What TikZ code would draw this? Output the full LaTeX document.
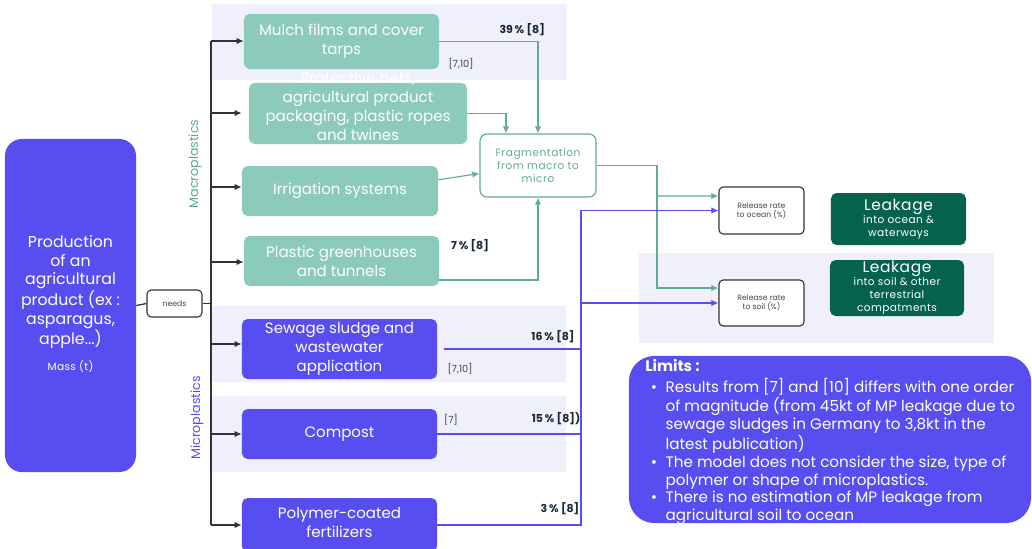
\documentclass[tikz,border=0pt]{standalone}
\usepackage{fontspec}
\setmainfont{Poppins}
\usepackage{tikz}
\usetikzlibrary{arrows.meta}

\definecolor{mpviolet}{RGB}{87,77,240}
\definecolor{tealfill}{RGB}{140,202,187}
\definecolor{tealline}{RGB}{95,172,150}
\definecolor{leakgreen}{RGB}{5,98,77}
\definecolor{lavender}{RGB}{240,240,252}
\definecolor{labeldark}{RGB}{25,40,55}
\definecolor{refgray}{RGB}{60,72,88}

\begin{document}
\begin{tikzpicture}[x=0.025cm, y=-0.025cm, >={Latex[length=5pt,width=4.5pt]},
    every node/.style={inner sep=0pt},
    boxtext/.style={text=white, align=center, font=\fontsize{10.7}{13.5}\selectfont},
    tealbox/.style={boxtext, fill=tealfill, rounded corners=4pt},
    violetbox/.style={boxtext, fill=mpviolet, rounded corners=4pt},
    smallbox/.style={fill=white, draw=black!80, line width=0.8pt, rounded corners=3pt, text=refgray, align=center, font=\fontsize{5.5}{6.5}\selectfont},
    leakbox/.style={fill=leakgreen, rounded corners=4pt, text=white, align=center, font=\addfontfeature{LetterSpace=4}\fontsize{7.5}{9.3}\selectfont},
    pct/.style={text=labeldark, font=\bfseries\fontsize{7.8}{9}\selectfont},
    refs/.style={text=refgray, font=\fontsize{7}{8}\selectfont},
    trunk/.style={draw=black!80, line width=0.9pt},
    tline/.style={draw=tealline, line width=0.8pt},
    vline/.style={draw=mpviolet, line width=0.8pt}]
    \useasboundingbox (0,0) rectangle (1032,548);

    % background bands
    \fill[lavender] (212,4) rectangle (567,80);
    \fill[lavender] (212,306) rectangle (566,382);
    \fill[lavender] (212,396) rectangle (566,472);
    \fill[lavender] (639,253) rectangle (994,343);

    \node[fill=mpviolet, rounded corners=12pt, minimum width=3.275cm, minimum height=8.325cm] (prod) at (70.5,305.5) {};
    \node[boxtext, font=\fontsize{11.2}{13.3}\selectfont] (prodlbl) at (70.5,292) {Production\\of an\\agricultural\\product (ex :\\asparagus,\\apple...)};
    \node[text=white, font=\addfontfeature{LetterSpace=4}\fontsize{7.5}{9}\selectfont] (mass) at (70.5,367) {Mass (t)};

    \node[smallbox, minimum width=1.375cm, minimum height=0.675cm] (needs) at (174.5,303.5) {needs};

    \node[tealbox, minimum width=4.875cm, minimum height=1.375cm] (mulch) at (341.5,41.5) {Mulch films and cover\\tarps};
    \node[tealbox, minimum width=5.45cm, minimum height=1.525cm] (prot) at (358,113.5) {};
    \node[boxtext] (protlbl) at ([yshift=5pt]prot.center) {Protective nets,\\agricultural product\\packaging, plastic ropes\\and twines};
    \node[tealbox, minimum width=4.9cm, minimum height=1.25cm] (irr) at (340,191) {Irrigation systems};
    \node[tealbox, minimum width=4.875cm, minimum height=1.25cm] (green) at (341.5,261) {Plastic greenhouses\\and tunnels};

    \node[violetbox, minimum width=4.875cm, minimum height=1.5cm] (sew) at (339.5,349) {Sewage sludge and\\wastewater\\application};
    \node[violetbox, minimum width=4.875cm, minimum height=1.25cm] (comp) at (339.5,434) {Compost};
    \node[violetbox, minimum width=4.875cm, minimum height=1.35cm] (poly) at (339.5,525) {};
    \node[boxtext] (polylbl) at (339.5,522) {Polymer-coated\\fertilizers};

    \node[text=tealline, rotate=90, font=\fontsize{9}{10}\selectfont] (macro) at (195,164) {Macroplastics};
    \node[text=mpviolet, rotate=90, font=\fontsize{9}{10}\selectfont] (micro) at (197,418) {Microplastics};

    \node[fill=white, draw=tealline, line width=0.8pt, rounded corners=5pt, minimum width=2.9cm, minimum height=1.575cm,
          text=tealline, align=center, font=\addfontfeature{LetterSpace=5}\fontsize{7.5}{9.2}\selectfont] (frag) at (538,165.5) {Fragmentation\\from macro to\\micro};

    \node[smallbox, minimum width=2.125cm, minimum height=1.175cm] (ocean) at (761.5,210.5) {Release rate\\to ocean (\%)};
    \node[smallbox, minimum width=2.125cm, minimum height=1.15cm] (soil) at (761.5,303) {Release rate\\to soil (\%)};

    \node[leakbox, minimum width=3.375cm, minimum height=1.3cm] (leakocean) at (898.5,219) {{\fontsize{11}{12.5}\selectfont Leakage}\\into ocean \&\\waterways};
    \node[leakbox, minimum width=3.35cm, minimum height=1.4cm] (leaksoil) at (897,288) {{\fontsize{11}{12}\selectfont Leakage}\\into soil \& other\\terrestrial\\compatments};

    \node[fill=mpviolet, rounded corners=18pt, minimum width=10.05cm, minimum height=4.175cm] (limits) at (830,439.5) {};
    \node[anchor=north west, text=white, align=left, font=\fontsize{10.8}{12.75}\selectfont] (limitstxt) at (645,359) {%
        \textbf{Limits :}\\[3.5pt]
        \begin{tabular}{@{\hspace{4pt}}l@{\hspace{6pt}}l@{}}
        \textbullet & Results from [7] and [10] differs with one order\\
         & of magnitude (from 45kt of MP leakage due to\\
         & sewage sludges in Germany to 3,8kt in the\\
         & latest publication)\\
        \textbullet & The model does not consider the size, type of\\
         & polymer or shape of microplastics.\\
        \textbullet & There is no estimation of MP leakage from\\
         & agricultural soil to ocean
        \end{tabular}};

    % trunk and branches
    \coordinate (t1) at (211,41);
    \coordinate (t2) at (211,113);
    \coordinate (t3) at (211,187);
    \coordinate (t4) at (211,262);
    \coordinate (t5) at (211,344);
    \coordinate (t6) at (211,434);
    \coordinate (t7) at (211,525);
    \draw[trunk] (prod.east) -- (needs.west);
    \draw[trunk] (needs.east) -- (needs.east -| t1);
    \draw[trunk] (t1) -- (t7);
    \draw[trunk,->] (t1) -- (t1 -| mulch.west);
    \draw[trunk,->] (t2) -- ([xshift=-5pt]t2 -| prot.west);
    \draw[trunk,->] (t3) -- (t3 -| irr.west);
    \draw[trunk,->] (t4) -- (t4 -| green.west);
    \draw[trunk,->] (t5) -- (t5 -| sew.west);
    \draw[trunk,->] (t6) -- (t6 -| comp.west);
    \draw[trunk,->] (t7) -- (t7 -| poly.west);

    % macro -> fragmentation
    \draw[tline,->] (mulch.east) -| (frag.north)
        node[pct, pos=0.42, above=4pt] {39\,\% [8]};
    \draw[tline,->] (prot.east) -| ([xshift=-0.8cm]frag.north);
    \draw[tline,->] ([yshift=0.28cm]irr.east) -- ([yshift=-0.2cm]frag.west);
    \draw[tline,->] ([yshift=-0.475cm]green.east) -| (frag.south);
    \node[pct] (pct7) at (470,246) {7\,\% [8]};
    \node[refs] (ref1) at (461,64) {[7,10]};

    % fragmentation -> release rates
    \coordinate (tsplit) at (657,196);
    \draw[tline,->] (frag.east) -| (tsplit) |- ([yshift=0.375cm]soil.west);
    \draw[tline,->] (tsplit) -- ([yshift=0.3625cm]ocean.west);

    % micro -> release rates
    \coordinate (vtop) at (581,210.5);
    \draw[vline,->] (poly.east) -| (vtop) -- (ocean.west);
    \draw[vline] ([xshift=5pt]sew.east) -- (sew.east -| vtop);
    \draw[vline] (comp.east) -- (comp.east -| vtop);
    \draw[vline,->] (vtop |- soil.west) -- (soil.west);
    \node[pct] (pct16) at (553,337) {16\,\% [8]};
    \node[refs] (ref2) at (460,369) {[7,10]};
    \node[refs] (ref3) at (451,420) {[7]};
    \node[pct] (pct15) at (556,419) {15\,\% [8])};
    \node[pct] (pct3) at (560,509) {3\,\% [8]};
\end{tikzpicture}
\end{document}
